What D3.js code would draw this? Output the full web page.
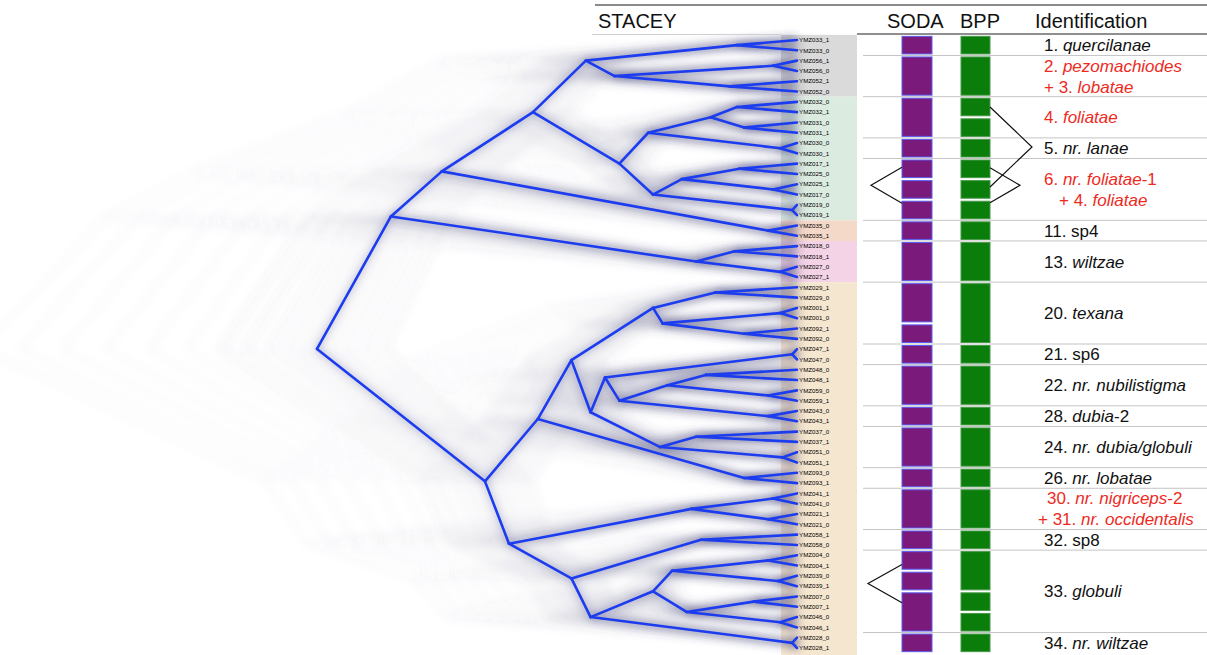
<!DOCTYPE html>
<html>
<head>
<meta charset="utf-8">
<script src="https://cdn.jsdelivr.net/npm/d3@7"></script>
<style>
  body { margin: 0; background: #fff; }
  svg { display: block; font-family: "Liberation Sans", Arial, Helvetica, sans-serif; }
</style>
</head>
<body>
<svg id="chart" width="1207" height="655"></svg>
<script>
// Data: tips from top to bottom
const tipLabels = [
  'YMZ033_1','YMZ033_0','YMZ056_1','YMZ056_0','YMZ052_1','YMZ052_0',
  'YMZ032_0','YMZ032_1','YMZ031_0','YMZ031_1','YMZ030_0','YMZ030_1',
  'YMZ017_1','YMZ025_0','YMZ025_1','YMZ017_0','YMZ019_0','YMZ019_1',
  'YMZ035_0','YMZ035_1','YMZ018_0','YMZ018_1','YMZ027_0','YMZ027_1',
  'YMZ029_1','YMZ029_0','YMZ001_1','YMZ001_0','YMZ092_1','YMZ092_0',
  'YMZ047_1','YMZ047_0','YMZ048_0','YMZ048_1','YMZ059_0','YMZ059_1',
  'YMZ043_0','YMZ043_1','YMZ037_0','YMZ037_1','YMZ051_0','YMZ051_1',
  'YMZ093_0','YMZ093_1','YMZ041_1','YMZ041_0','YMZ021_1','YMZ021_0',
  'YMZ058_1','YMZ058_0','YMZ004_0','YMZ004_1','YMZ039_0','YMZ039_1',
  'YMZ007_0','YMZ007_1','YMZ046_0','YMZ046_1','YMZ028_0','YMZ028_1'
];

// 樹: [相對年齡, 子, 子]，數字 = tip 編號 (1-based)
const tree = [1.00,
  [0.846,
    [0.74,
      [0.55,
        [0.44, [0.125, 1, 2], [0.38, [0.05, 3, 4], [0.14, 5, 6]]],
        [0.37,
          [0.31, [0.18, [0.125, 7, 8], [0.11, 9, 10]], [0.035, 11, 12]],
          [0.30, [0.24, [0.12, 13, 14], [0.05, 15, 16]], [0.01, 17, 18]]]],
      [0.06, 19, 20]],
    [0.21, [0.13, 21, 22], [0.035, 23, 24]]],
  [0.65,
    [0.54,
      [0.47,
        [0.30, [0.17, 25, 26], [0.28, [0.035, 27, 28], [0.11, 29, 30]]],
        [0.43,
          [0.40, [0.01, 31, 32], [0.37, [0.27, [0.19, 33, 34], [0.06, 35, 36]], [0.06, 37, 38]]],
          [0.285, [0.21, 39, 40], [0.03, 41, 42]]]],
      [0.11, 43, 44]],
    [0.60,
      [0.22, [0.05, 45, 46], [0.06, 47, 48]],
      [0.47, [0.20, 49, 50],
        [0.43,
          [0.30, [0.26, [0.06, 51, 52], [0.04, 53, 54]], [0.23, [0.09, 55, 56], [0.035, 57, 58]]],
          [0.01, 59, 60]]]]]];

// colour bands behind tip labels (tip ranges)
const bandTips = [[1, 6], [7, 18], [19, 20], [21, 24], [25, 60]];
const bandColors = ['#dadada', '#dcebe0', '#f5d9c8', '#f3d3e5', '#f5e6cf'];

// SODA / BPP species blocks (tip ranges)
const sodaBlocks = [[1,2],[3,6],[7,10],[11,12],[13,14],[15,16],[17,18],[19,20],[21,24],
  [25,28],[29,30],[31,32],[33,36],[37,38],[39,42],[43,44],[45,48],[49,50],[51,52],[53,54],[55,58],[59,60]];
const bppBlocks = [[1,2],[3,6],[7,8],[9,10],[11,12],[13,14],[15,16],[17,18],[19,20],[21,24],
  [25,30],[31,32],[33,36],[37,38],[39,42],[43,44],[45,48],[49,50],[51,54],[55,56],[57,58],[59,60]];

// brackets (tip positions of both ends)
const sodaBrackets = [[13.35, 16.85], [51.9, 55.6]];
const bppBrackets = [[7.5, 15.26], [13.4, 16.8]];

// identification rows; *...* = italic
const idGroups = [[1,2],[3,6],[7,10],[11,12],[13,18],[19,20],[21,24],[25,30],[31,32],
  [33,36],[37,38],[39,42],[43,44],[45,48],[49,50],[51,58],[59,60]];
const idLines = [
  ['1. *quercilanae*'],
  ['2. *pezomachiodes*', '+ 3. *lobatae*'],
  ['4. *foliatae*'],
  ['5. *nr. lanae*'],
  ['6. *nr. foliatae*-1', '+ 4. *foliatae*'],
  ['11. sp4'],
  ['13. *wiltzae*'],
  ['20. *texana*'],
  ['21. sp6'],
  ['22. *nr. nubilistigma*'],
  ['28. *dubia*-2'],
  ['24. *nr. dubia/globuli*'],
  ['26. *nr. lobatae*'],
  ['30. *nr. nigriceps*-2', '+ 31. *nr. occidentalis*'],
  ['32. sp8'],
  ['33. *globuli*'],
  ['34. *nr. wiltzae*']
];
const idRed = [false, true, true, false, true, false, false, false, false,
  false, false, false, false, true, false, false, false];
const headers = ['STACEY', 'SODA', 'BPP', 'Identification'];

// DensiTree 陰影: 拉長樹高的倍數
const hazeStretch = [0.86, 0.9, 0.94, 0.97, 1.0, 1.03, 1.06, 1.1, 1.15, 1.2, 1.27, 1.35, 1.44, 1.53, 1.62, 1.7];

// Layout
const W = 1207, H = 655;
const tipX = 797, rootX = 317;
const svg = d3.select('#chart');

const xScale = d3.scaleLinear().domain([0, 1]).range([tipX, rootX]);
const yScale = d3.scaleLinear().domain([1, tipLabels.length]).range([40, 648]);

// hierarchy
const root = d3.hierarchy(tree, d => Array.isArray(d) ? d.slice(1) : null);
root.eachAfter(n => {
  if (n.children) {
    n.age = n.data[0];
    n.yy = d3.mean(n.children, c => c.yy);
  } else {
    n.age = 0;
    n.yy = yScale(n.data);
  }
});
const links = root.links();

const defs = svg.append('defs');
function blurFilter(id, sd) {
  defs.append('filter').attr('id', id).attr('x', '-20%').attr('y', '-20%')
    .attr('width', '140%').attr('height', '140%')
    .append('feGaussianBlur').attr('stdDeviation', sd);
}
blurFilter('blurHaze', 5);
blurFilter('blurGlow', 3.5);

// bands behind tips
svg.append('g').selectAll('rect').data(bandTips).join('rect')
  .attr('x', 781).attr('width', 76)
  .attr('y', d => yScale(d[0] - 0.5))
  .attr('height', (d, i) => (i === bandTips.length - 1 ? H : yScale(d[1] + 0.5)) - yScale(d[0] - 0.5))
  .attr('fill', (d, i) => bandColors[i]);

// haze (stretched copies of the tree)
const haze = svg.append('g').attr('filter', 'url(#blurHaze)');
hazeStretch.forEach(s => {
  haze.append('g').selectAll('line').data(links).join('line')
    .attr('x1', d => xScale(d.source.age * s)).attr('y1', d => d.source.yy)
    .attr('x2', d => xScale(d.target.age * s)).attr('y2', d => d.target.yy)
    .attr('stroke', '#50507e')
    .attr('stroke-opacity', s <= 1.2 ? 0.075 : 0.022)
    .attr('stroke-width', 5);
});
svg.append('g').attr('filter', 'url(#blurGlow)').selectAll('line').data(links).join('line')
  .attr('x1', d => xScale(d.source.age)).attr('y1', d => d.source.yy)
  .attr('x2', d => xScale(d.target.age)).attr('y2', d => d.target.yy)
  .attr('stroke', '#4a4a88').attr('stroke-opacity', 0.22)
  .attr('stroke-width', 8);

// consensus tree
svg.append('g').selectAll('line').data(links).join('line')
  .attr('x1', d => xScale(d.source.age)).attr('y1', d => d.source.yy)
  .attr('x2', d => xScale(d.target.age)).attr('y2', d => d.target.yy)
  .attr('stroke', '#1c3cef').attr('stroke-width', 2.6)
  .attr('stroke-linecap', 'round');

// tip labels
svg.append('g').selectAll('text').data(tipLabels).join('text')
  .attr('x', tipX + 2).attr('y', (d, i) => yScale(i + 1) + 2.2)
  .attr('font-size', 6.2).attr('fill', '#000')
  .text(d => d);

// header
svg.append('line').attr('x1', 595).attr('x2', W).attr('y1', 5).attr('y2', 5)
  .attr('stroke', '#8a8a8a').attr('stroke-width', 2);
svg.append('line').attr('x1', 592).attr('x2', 781).attr('y1', 34.5).attr('y2', 34.5)
  .attr('stroke', '#d0d0d0').attr('stroke-width', 1);
svg.append('line').attr('x1', 857).attr('x2', W).attr('y1', 34).attr('y2', 34)
  .attr('stroke', '#8f8f8f').attr('stroke-width', 2);
const headerX = [598, 887, 960, 1035];
svg.append('g').selectAll('text').data(headers).join('text')
  .attr('x', (d, i) => headerX[i]).attr('y', 28)
  .attr('font-size', 20).attr('fill', '#111')
  .text(d => d);

// separators between identification rows
svg.append('g').selectAll('line').data(idGroups.slice(1)).join('line')
  .attr('x1', 863).attr('x2', W)
  .attr('y1', d => yScale(d[0] - 0.5)).attr('y2', d => yScale(d[0] - 0.5))
  .attr('stroke', '#c4c4c4').attr('stroke-width', 1);

// SODA and BPP blocks
function drawBlocks(data, x0, w, fill, stroke) {
  svg.append('g').selectAll('rect').data(data).join('rect')
    .attr('x', x0).attr('width', w)
    .attr('y', d => yScale(d[0] - 0.5) + 1.5)
    .attr('height', d => yScale(d[1] + 0.5) - yScale(d[0] - 0.5) - 3)
    .attr('fill', fill).attr('stroke', stroke).attr('stroke-width', 1);
}
drawBlocks(sodaBlocks, 902, 30, '#7a1b7c', '#5a5cf0');
drawBlocks(bppBlocks, 961, 29, '#0a7d0a', '#4a9a4a');

// brackets
const bracketLine = d3.line();
function drawBrackets(data, xEdge, apexOffsets) {
  svg.append('g').selectAll('path').data(data).join('path')
    .attr('d', (d, i) => {
      const y0 = yScale(d[0]), y1 = yScale(d[1]);
      return bracketLine([[xEdge, y0], [xEdge + apexOffsets[i], (y0 + y1) / 2], [xEdge, y1]]);
    })
    .attr('fill', 'none').attr('stroke', '#111').attr('stroke-width', 1.2);
}
drawBrackets(sodaBrackets, 902, [-31, -34]);
drawBrackets(bppBrackets, 990, [42, 30]);

// identification labels
const idX = 1044;
const lineIndent = { '4,1': 15, '13,0': 3, '13,1': -6 };
const idG = svg.append('g').attr('font-size', 17);
idGroups.forEach((g, gi) => {
  const cy = (yScale(g[0]) + yScale(g[1])) / 2;
  const lines = idLines[gi];
  lines.forEach((ln, li) => {
    const off = lines.length === 1 ? 0 : (li === 0 ? -10.5 : 10.5);
    const t = idG.append('text')
      .attr('x', idX + (lineIndent[gi + ',' + li] || 0))
      .attr('y', cy + off + 6)
      .attr('fill', idRed[gi] ? '#ee2a1e' : '#111');
    ln.split('*').forEach((part, pi) => {
      if (part === '') return;
      t.append('tspan').attr('font-style', pi % 2 ? 'italic' : 'normal').text(part);
    });
  });
});
</script>
</body>
</html>
